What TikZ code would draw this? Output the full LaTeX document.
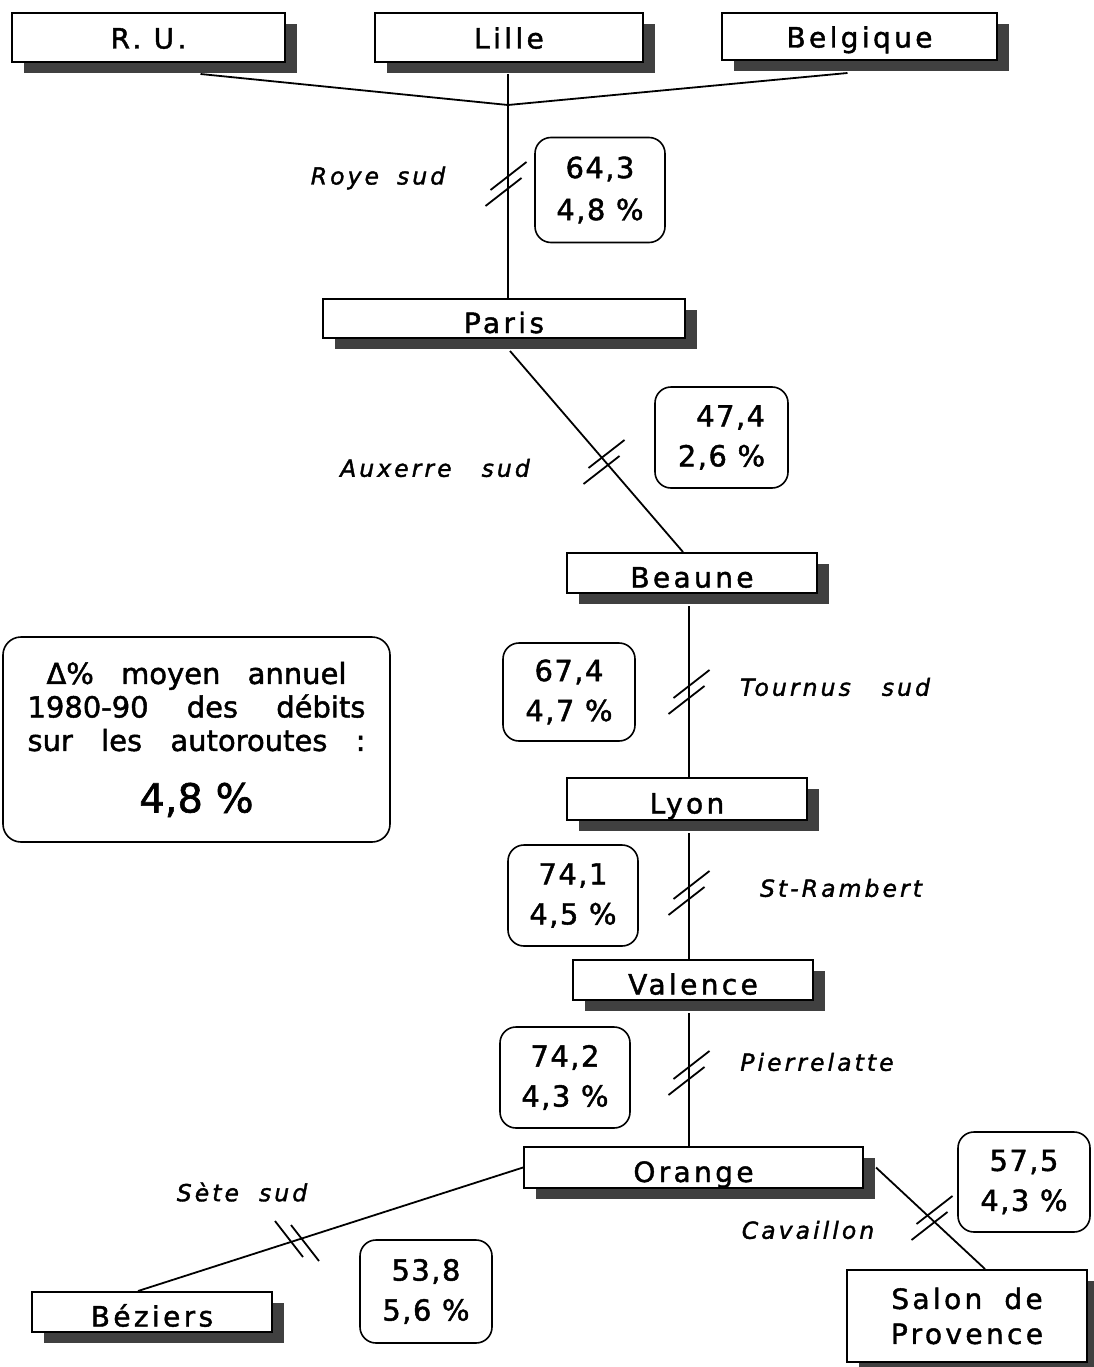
\documentclass[tikz,border=0pt]{standalone}
\usepackage{fontspec}
\setmainfont{DejaVu Sans}[FakeBold=1.5]
\newfontfamily\cityfont[LetterSpace=12,FakeBold=1.5]{DejaVu Sans}
\newfontfamily\numfont[LetterSpace=5,FakeBold=1.5]{DejaVu Sans}
\newfontfamily\labfont[LetterSpace=13,FakeBold=1.5]{DejaVu Sans}
\usetikzlibrary{shadows,calc}
\newcommand\fwdslash[1]{%
  \draw[tick] ($(#1)+(-2.5,8)+(-18,14)$) -- ($(#1)+(-2.5,8)+(18,-14)$);
  \draw[tick] ($(#1)+(2.5,-8)+(-18,14)$) -- ($(#1)+(2.5,-8)+(18,-14)$);}
\newcommand\bkslashmark[1]{%
  \draw[tick] ($(#1)+(-8,-2)+(-14,-18)$) -- ($(#1)+(-8,-2)+(14,18)$);
  \draw[tick] ($(#1)+(8,2)+(-14,-18)$) -- ($(#1)+(8,2)+(14,18)$);}
\begin{document}
\begin{tikzpicture}[x=1pt,y=-1pt,
  city/.style={draw=black, line width=2pt, fill=white, inner sep=0pt,
    font=\cityfont\fontsize{28}{35}\selectfont,
    drop shadow={shadow xshift=12pt,shadow yshift=-11pt,fill=black!75,opacity=1}},
  citytop/.style={city, text height=24pt, text depth=2pt},
  cityone/.style={city, text height=31pt, text depth=2pt},
  numbox/.style={draw=black, line width=1.6pt, rounded corners=16pt, fill=white,
    inner sep=0pt, align=center, font=\numfont\fontsize{29}{40}\selectfont},
  lab/.style={font=\labfont\itshape\fontsize{23.5}{28}\selectfont, inner sep=0pt},
  road/.style={line width=1.8pt},
  tick/.style={line width=1.8pt}]
\useasboundingbox (0,0) rectangle (1094,1367);
\clip (0,0) rectangle (1094,1367);
\fill[white] (0,0) rectangle (1094,1367);

% city boxes
\node[citytop, minimum width=273pt, minimum height=49pt] (ru) at (148.5,37.5) {R. U.};
\node[citytop, minimum width=268pt, minimum height=49pt] (lille) at (509,37.5) {Lille};
\node[citytop, minimum width=275pt, minimum height=47pt] (belg) at (859.5,36.5) {Belgique};
\node[cityone, minimum width=362pt, minimum height=39pt] (paris) at (504,318.5) {Paris};
\node[cityone, minimum width=250pt, minimum height=40pt] (beaune) at (692,573) {Beaune};
\node[cityone, minimum width=240pt, minimum height=42pt] (lyon) at (687,799) {Lyon};
\node[cityone, minimum width=240pt, minimum height=40pt] (valence) at (693,980) {Valence};
\node[cityone, minimum width=339pt, minimum height=41pt] (orange) at (693.5,1167.5) {Orange};
\node[cityone, minimum width=240pt, minimum height=40pt] (beziers) at (152,1312) {Béziers};
\node[city, minimum width=240pt, minimum height=92pt, align=center] (salon) at (967,1316) {Salon\hspace{22pt}de\\Provence};

% value boxes
\node[numbox, minimum width=130pt, minimum height=105pt] (n1) at (600,190) {64,3\\[2pt]4,8 \%};
\node[numbox, minimum width=133pt, minimum height=101pt, align=right] (n2) at (721.5,437.5) {47,4\\2,6 \%};
\node[numbox, minimum width=132pt, minimum height=98pt] (n3) at (569,692) {67,4\\4,7 \%};
\node[numbox, minimum width=130pt, minimum height=101pt] (n4) at (573,895.5) {74,1\\4,5 \%};
\node[numbox, minimum width=130pt, minimum height=101pt] (n5) at (565,1077.5) {74,2\\4,3 \%};
\node[numbox, minimum width=132pt, minimum height=100pt] (n6) at (1024,1182) {57,5\\4,3 \%};
\node[numbox, minimum width=132pt, minimum height=103pt] (n7) at (426,1291.5) {53,8\\5,6 \%};

% legend
\node[draw=black, line width=1.6pt, rounded corners=18pt, fill=white, inner sep=0pt,
  minimum width=387pt, minimum height=205pt, align=center,
  font=\fontsize{29}{33.5}\selectfont] (legend) at (196.5,739.5)
  {\makebox[300pt]{Δ\%\hfill moyen\hfill annuel}\\
   \makebox[338pt]{1980-90\hfill des\hfill débits}\\
   \makebox[338pt]{sur\hfill les\hfill autoroutes\hfill :}\\[28pt]
   {\fontsize{40}{46}\selectfont 4,8 \%}};

% section labels
\node[lab] (roye) at (378,178) {Roye\hspace{18pt}sud};
\node[lab] (auxerre) at (435,468) {Auxerre\hspace{30pt}sud};
\node[lab] (tournus) at (835,687) {Tournus\hspace{31pt}sud};
\node[lab] (stramb) at (841,888) {St-Rambert};
\node[lab] (pierre) at (817,1062) {Pierrelatte};
\node[lab] (cava) at (808,1230) {Cavaillon};
\node[lab] (sete) at (242,1192) {Sète\hspace{20pt}sud};

% connectors
\coordinate (J) at (508,105);
\coordinate (spine) at (689,0);
\draw[road] ([shift={(52,11)}]ru.south) -- (J);
\draw[road] ([shift={(-12,12)}]belg.south) -- (J);
\draw[road] ([shift={(-1,11)}]lille.south) -- (J) -- (J |- paris.north);
\draw[road] ([shift={(6,12)}]paris.south) -- ([shift={(-9,0)}]beaune.north);
\draw[road] (spine |- beaune.south) ++(0,12) -- (spine |- lyon.north);
\draw[road] (spine |- lyon.south) ++(0,12) -- (spine |- valence.north);
\draw[road] (spine |- valence.south) ++(0,12) -- (spine |- orange.north);
\draw[road] (orange.west) -- ([shift={(-14,0)}]beziers.north);
\draw[road] ([shift={(12,0)}]orange.east) -- ([shift={(18,0)}]salon.north);

% count-point marks
\coordinate (m1) at (506,184);
\coordinate (m2) at (604,462);
\coordinate (m3) at (689,692);
\coordinate (m4) at (689,893);
\coordinate (m5) at (689,1073);
\coordinate (m6) at (932,1218);
\coordinate (m7) at (297,1241);
\fwdslash{m1}
\fwdslash{m2}
\fwdslash{m3}
\fwdslash{m4}
\fwdslash{m5}
\fwdslash{m6}
\bkslashmark{m7}
\end{tikzpicture}
\end{document}
